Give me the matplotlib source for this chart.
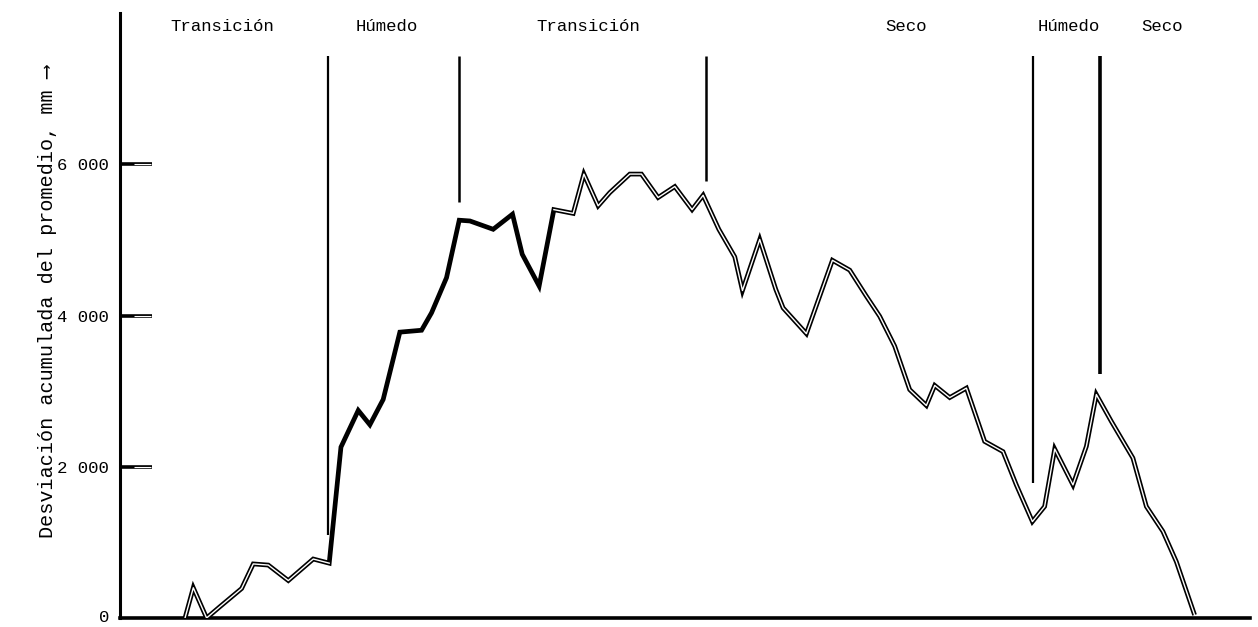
import matplotlib
matplotlib.use("Agg")
import matplotlib.pyplot as plt

# ---- data ----
# x: position along the time axis (arbitrary units, ~1 per year)
x_pos = [5.42, 6.11, 7.22, 8.33, 10.14, 11.11, 12.36, 14.03, 16.11, 17.44,
         18.42, 19.86, 20.83, 21.94, 23.33, 25.14, 25.97, 27.22, 28.28, 29.17,
         31.11, 32.72, 33.53, 34.94, 36.17, 37.78, 38.67, 39.86, 40.83, 42.5,
         43.47, 44.86, 46.25, 47.69, 48.61, 49.92, 51.25, 51.89, 53.33, 54.67,
         55.28, 57.22, 59.39, 60.83, 62.22, 63.33, 64.58, 65.83, 67.22, 67.92,
         69.17, 70.56, 72.08, 73.61, 74.72, 76.06, 77.08, 77.92, 79.44, 80.56,
         81.39, 82.64, 84.44, 85.56, 86.94, 88.06, 89.58]
desviacion = [0, 400, 0, 150, 390, 715, 700, 495, 780, 725,
              2260, 2745, 2555, 2890, 3780, 3805, 4035, 4500, 5260, 5250,
              5140, 5340, 4810, 4390, 5400, 5350, 5870, 5450, 5625, 5870,
              5870, 5560, 5705, 5400, 5590, 5140, 4775, 4330, 5005, 4345,
              4100, 3760, 4730, 4600, 4255, 3990, 3595, 3020, 2810, 3075,
              2915, 3040, 2335, 2200, 1760, 1275, 1475, 2235, 1760, 2270,
              2955, 2600, 2115, 1475, 1145, 745, 40]

# period boundaries: x position and lower end of the marker line
limites_x = [17.33, 28.25, 48.83, 76.08, 81.67]
limites_y = [1100, 5500, 5780, 1790, 3220]
limites_w = [1.6, 1.8, 1.8, 1.6, 2.6]

periodos = ["Transición", "Húmedo", "Transición", "Seco", "Húmedo", "Seco"]
periodos_x = [8.5, 22.2, 39.0, 65.5, 79.1, 86.9]

yticks = [0, 2000, 4000, 6000]
ytick_labels = ["0", "2 000", "4 000", "6 000"]
ylabel = "Desviación acumulada del promedio, mm ⟶"

# ---- figure ----
W, H = 1258, 627
fig = plt.figure(figsize=(W / 100, H / 100), dpi=100)
ax = fig.add_axes([120 / W, 1 - 618 / H, (1250 - 120) / W, (618 - 13) / H])
ax.set_xlim(0, 94.2)
ax.set_ylim(0, 8000)

mono = ["Liberation Mono", "DejaVu Sans Mono", "DejaVu Sans"]

# curve: double (hollow) line, solid in the humid period
ax.plot(x_pos, desviacion, color="black", lw=3.4, solid_joinstyle="miter",
        solid_capstyle="butt", zorder=3)
i0, i1 = 9, 24
ax.plot(x_pos[:i0 + 1], desviacion[:i0 + 1], color="white", lw=1.0, zorder=4)
ax.plot(x_pos[i1:], desviacion[i1:], color="white", lw=1.0, zorder=4)

# period boundaries
for xb, yb, wb in zip(limites_x, limites_y, limites_w):
    ax.vlines(xb, yb, 7430, color="black", lw=wb, zorder=2)

for lab, xl in zip(periodos, periodos_x):
    ax.text(xl, 7820, lab, ha="center", va="center", fontsize=12.5,
            family=mono, color="black")

# axes styling
for s in ["top", "right"]:
    ax.spines[s].set_visible(False)
ax.spines["left"].set_linewidth(2.2)
ax.spines["bottom"].set_linewidth(2.6)
ax.set_xticks([])
ax.set_yticks(yticks[1:])
ax.set_yticklabels(ytick_labels[1:], family=mono, fontsize=12.5)
ax.tick_params(axis="y", direction="in", length=23, width=2.6, pad=8)
# hollow look of the tick marks
ax.hlines(yticks[1:], 0.012, 0.027, transform=ax.get_yaxis_transform(),
          color="white", lw=0.8, zorder=5)
ax.text(-0.9, 0, ytick_labels[0], ha="right", va="center", fontsize=12.5,
        family=mono)

fig.text(48 / W, 1 - 538 / H, ylabel, rotation=90, ha="center", va="bottom",
         fontsize=14.5, family=mono)

fig.savefig("out.png", dpi=100, facecolor="white")
